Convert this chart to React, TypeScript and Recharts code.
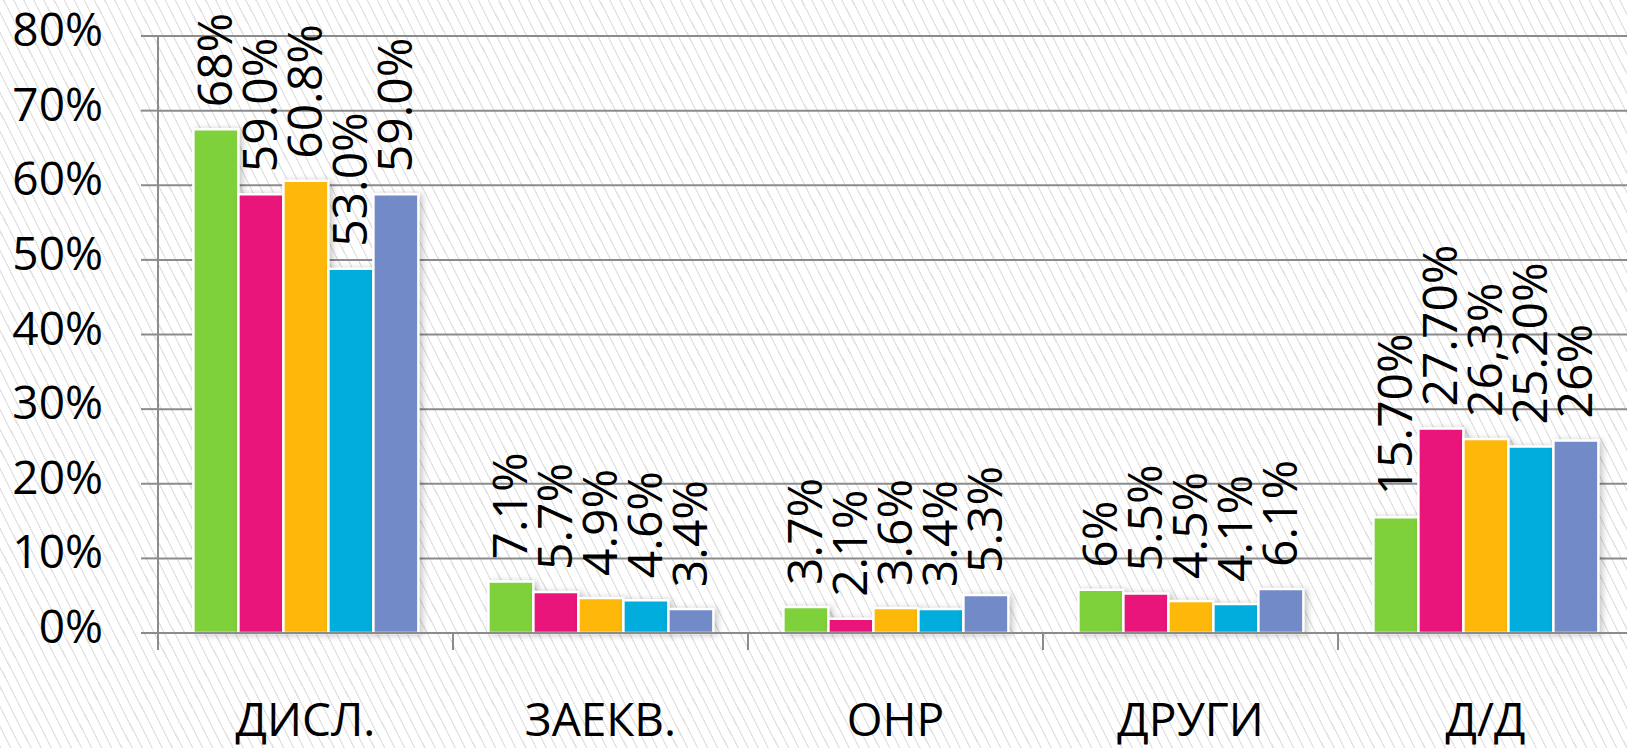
import React from "react";
import { BarChart, Bar, XAxis, YAxis, CartesianGrid, LabelList } from "recharts";

// categories + per-series values (bar heights)
const categories = ["ДИСЛ.", "ЗАЕКВ.", "ОНР", "ДРУГИ", "Д/Д"];

const greenValues = [67.5, 6.9, 3.5, 5.8, 15.5];
const pinkValues = [58.8, 5.5, 1.9, 5.3, 27.4];
const orangeValues = [60.6, 4.7, 3.35, 4.3, 26.0];
const cyanValues = [48.8, 4.4, 3.2, 3.9, 25.0];
const blueValues = [58.8, 3.2, 5.1, 5.9, 25.8];

// the printed labels (typed by hand in the source, they don't always match the bars)
const greenLabels = ["68%", "7.1%", "3.7%", "6%", "15.70%"];
const pinkLabels = ["59.0%", "5.7%", "2.1%", "5.5%", "27.70%"];
const orangeLabels = ["60.8%", "4.9%", "3.6%", "4.5%", "26,3%"];
const cyanLabels = ["53.0%", "4.6%", "3.4%", "4.1%", "25.20%"];
const blueLabels = ["59.0%", "3.4%", "5.3%", "6.1%", "26%"];

const yTicks = [0, 10, 20, 30, 40, 50, 60, 70, 80];

const series = [
  { key: "s1", values: greenValues, labels: greenLabels, color: "#7FD13B" },
  { key: "s2", values: pinkValues, labels: pinkLabels, color: "#EA157A" },
  { key: "s3", values: orangeValues, labels: orangeLabels, color: "#FEB80A" },
  { key: "s4", values: cyanValues, labels: cyanLabels, color: "#00ADDC" },
  { key: "s5", values: blueValues, labels: blueLabels, color: "#738AC8" },
];

const data = categories.map((name, i) => {
  const row: Record<string, string | number> = { name };
  series.forEach((s) => {
    row[s.key] = s.values[i];
    row[s.key + "_lbl"] = s.labels[i];
  });
  return row;
});

const FONT = "'Open Sans', 'Noto Sans', sans-serif";
const GRID = "#8c8c8c";
const CHART_W = 1640;
const CHART_H = 748;
const Y_AXIS_W = 158;
const MARGIN = { top: 36, right: 7, left: 0, bottom: 0 };
const BAND = (CHART_W - MARGIN.right - Y_AXIS_W) / categories.length;

function VerticalLabel(props: any) {
  const { x, y, width, value } = props;
  const ax = Number(x) + Number(width) / 2 + 16;
  const ay = Number(y) - 22;
  return (
    <text
      x={ax}
      y={ay}
      transform={`rotate(-90, ${ax}, ${ay})`}
      textAnchor="start"
      fontSize={48}
      fontFamily={FONT}
      fill="#000"
    >
      {value}
    </text>
  );
}

function YTick(props: any) {
  const { x, y, payload } = props;
  return (
    <text x={x - 38} y={y + 10} textAnchor="end" fontSize={46} fontFamily={FONT} fill="#000">
      {payload.value}%
    </text>
  );
}

function XTick(props: any) {
  const { x, y, payload, index } = props;
  const left = x - BAND / 2;
  return (
    <g>
      <line x1={left} y1={y} x2={left} y2={y + 17} stroke={GRID} strokeWidth={2} />
      {index === categories.length - 1 && (
        <line x1={left + BAND} y1={y} x2={left + BAND} y2={y + 17} stroke={GRID} strokeWidth={2} />
      )}
      <text x={x} y={y + 103} textAnchor="middle" fontSize={46} fontFamily={FONT} fill="#000">
        {payload.value}
      </text>
    </g>
  );
}

export default function App() {
  return (
    <div
      style={{
        width: 1627,
        height: CHART_H,
        overflow: "hidden",
        background:
          "repeating-linear-gradient(63deg, #e4e4e4 0px, #e4e4e4 1.4px, #ffffff 1.4px, #ffffff 9px)",
      }}
    >
      <style>{`
        body { margin: 0; }
        .recharts-bar-rectangle path { filter: drop-shadow(3px 1px 3px rgba(0,0,0,0.22)); }
      `}</style>
      <BarChart
        width={CHART_W}
        height={CHART_H}
        data={data}
        margin={MARGIN}
        barCategoryGap="12%"
        barGap={0}
      >
        <CartesianGrid horizontal vertical={false} stroke={GRID} strokeWidth={2} />
        <XAxis
          dataKey="name"
          height={CHART_H - 633}
          axisLine={{ stroke: GRID, strokeWidth: 2 }}
          tickLine={false}
          tickSize={0}
          tickMargin={0}
          interval={0}
          tick={<XTick />}
        />
        <YAxis
          width={Y_AXIS_W}
          domain={[0, 80]}
          ticks={yTicks}
          interval={0}
          axisLine={{ stroke: GRID, strokeWidth: 2 }}
          tickLine={{ stroke: GRID, strokeWidth: 2 }}
          tickSize={17}
          tickMargin={0}
          tick={<YTick />}
        />
        {series.map((s) => (
          <Bar
            key={s.key}
            dataKey={s.key}
            fill={s.color}
            stroke="#ffffff"
            strokeWidth={2.5}
            isAnimationActive={false}
          >
            <LabelList dataKey={s.key + "_lbl"} content={<VerticalLabel />} />
          </Bar>
        ))}
      </BarChart>
    </div>
  );
}
